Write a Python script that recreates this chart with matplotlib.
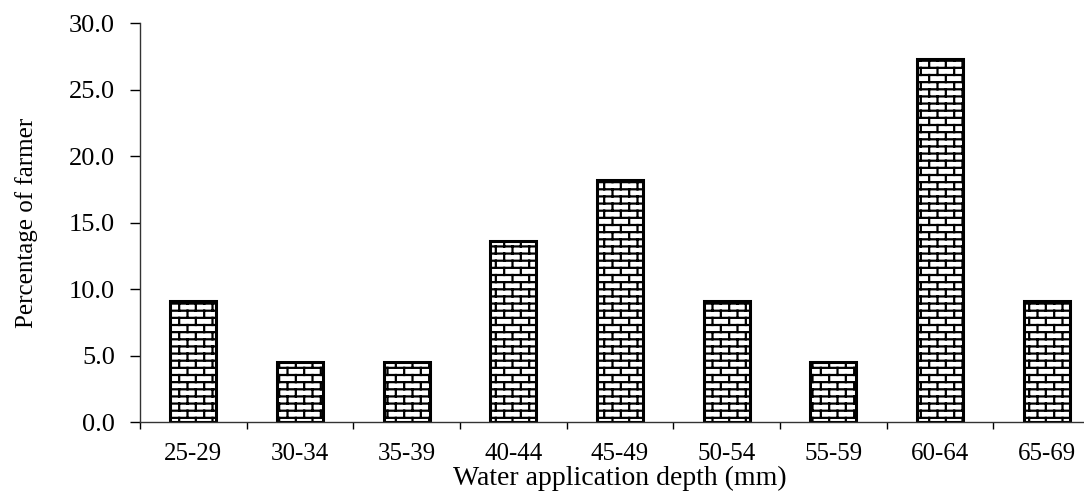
import numpy as np
import matplotlib
matplotlib.use("Agg")
import matplotlib.pyplot as plt
from matplotlib import hatch as mhatch
from matplotlib.path import Path

# data
depth_classes = ["25-29", "30-34", "35-39", "40-44", "45-49",
                 "50-54", "55-59", "60-64", "65-69"]
pct_farmer = [9.1, 4.5, 4.5, 13.6, 18.2, 9.1, 4.5, 27.3, 9.1]
y_ticks = [0, 5, 10, 15, 20, 25, 30]


class BrickHatch(mhatch.HatchPatternBase):
    # brick wall pattern, used for hatch '+'
    def __init__(self, hatch, density):
        self.rows = 14 if '+' in hatch else 0
        self.cols = 6
        self.num_vertices = (self.rows + (self.rows + 1) * self.cols) * 2 if self.rows else 0

    def set_vertices_and_codes(self, vertices, codes):
        h = 1.0 / self.rows
        w = 1.0 / self.cols
        segs = []
        for i in range(self.rows):
            y = (i + 0.5) * h
            segs.append([(0.0, y), (1.0, y)])
        for i in range(self.rows + 1):
            off = 0.25 if i % 2 == 0 else 0.75
            for j in range(self.cols):
                x = (j + off) * w
                segs.append([(x, (i - 0.5) * h), (x, (i + 0.5) * h)])
        vertices[:] = np.array(segs).reshape(-1, 2)
        codes[0::2] = Path.MOVETO
        codes[1::2] = Path.LINETO


mhatch._hatch_types = [BrickHatch]

plt.rcParams['font.family'] = ['Liberation Serif', 'DejaVu Serif']
plt.rcParams['hatch.linewidth'] = 1.6

fig = plt.figure(figsize=(10.84, 4.99), dpi=100)
ax = fig.add_axes([0.1292, 0.1543, 0.8856, 0.7996])

x = np.arange(len(depth_classes))
ax.bar(x, pct_farmer, width=0.43, color='white', edgecolor='black',
       linewidth=2.2, hatch='+', zorder=2)

ax.set_xlim(-0.5, len(depth_classes) - 0.5)
ax.set_ylim(0, 30)

ax.set_yticks(y_ticks)
ax.set_yticklabels([f"{v:.1f}" for v in y_ticks], fontsize=19)
ax.tick_params(axis='y', direction='out', length=7, width=1, pad=11)

# boundaries as major ticks, labels on minor ticks at bar centres
ax.set_xticks(np.arange(len(depth_classes) + 1) - 0.5)
ax.set_xticklabels([])
ax.set_xticks(x, minor=True)
ax.set_xticklabels(depth_classes, minor=True, fontsize=18)
ax.tick_params(axis='x', which='major', direction='out', length=5, width=1)
ax.tick_params(axis='x', which='minor', length=0, pad=15)

for s in ['top', 'right']:
    ax.spines[s].set_visible(False)
for s in ['left', 'bottom']:
    ax.spines[s].set_linewidth(1.0)
    ax.spines[s].set_color('#333333')

ax.set_xlabel("Water application depth (mm)", fontsize=20, labelpad=1)
ax.set_ylabel("Percentage of farmer", fontsize=18, labelpad=22)

fig.savefig("out.png", dpi=100)
